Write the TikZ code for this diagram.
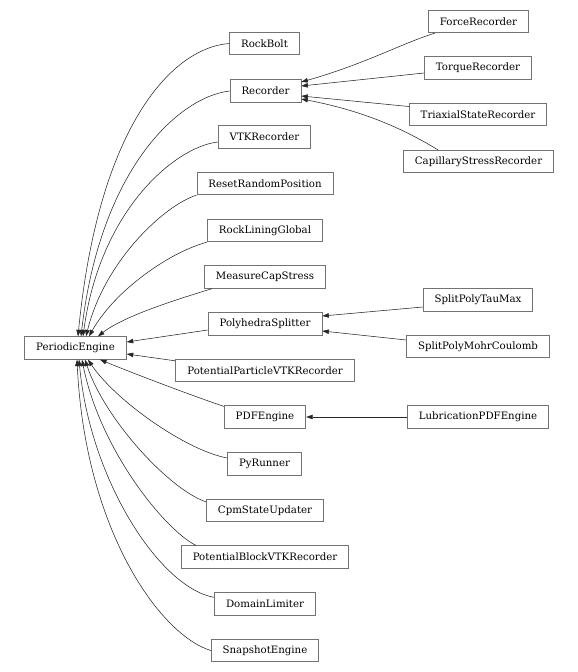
\documentclass[tikz,border=0pt]{standalone}
\usepackage{fontspec}
\setmainfont{DejaVu Serif}
\usetikzlibrary{arrows.meta}
\begin{document}
\begin{tikzpicture}[x=1bp,y=-1bp,
  cls/.style={draw=black!55, line width=0.8bp, rectangle, minimum height=22.5bp, inner xsep=11.5bp, inner ysep=0pt, font=\fontsize{10.2bp}{12bp}\selectfont, text=black},
  inh/.style={draw=black!85, line width=0.55bp, -{Triangle[length=6.5bp,width=4.5bp]}}]
\useasboundingbox (0,0) rectangle (578,672);
% nodes
\node[cls] (pe) at (75.5,348) {PeriodicEngine};
\node[cls] (rb) at (264.5,43.5) {RockBolt};
\node[cls] (rec) at (265.5,91) {Recorder};
\node[cls] (vtk) at (264.5,137) {VTKRecorder};
\node[cls] (rrp) at (265,183.5) {ResetRandomPosition};
\node[cls] (rlg) at (265,230.5) {RockLiningGlobal};
\node[cls] (mcs) at (265,277) {MeasureCapStress};
\node[cls] (ps) at (265,324) {PolyhedraSplitter};
\node[cls] (ppv) at (265,370.5) {PotentialParticleVTKRecorder};
\node[cls] (pdf) at (265,417) {PDFEngine};
\node[cls] (pyr) at (264.5,464) {PyRunner};
\node[cls] (cpm) at (265,510.5) {CpmStateUpdater};
\node[cls] (pbv) at (265,557) {PotentialBlockVTKRecorder};
\node[cls] (dl) at (265,604) {DomainLimiter};
\node[cls] (snap) at (265,650.5) {SnapshotEngine};
\node[cls] (fr) at (478.5,21.5) {ForceRecorder};
\node[cls] (tr) at (478,68) {TorqueRecorder};
\node[cls] (tsr) at (478,114.5) {TriaxialStateRecorder};
\node[cls] (csr) at (478.5,161.5) {CapillaryStressRecorder};
\node[cls] (sptm) at (478,300) {SplitPolyTauMax};
\node[cls] (spmc) at (478,346.5) {SplitPolyMohrCoulomb};
\node[cls] (lpe) at (478,417) {LubricationPDFEngine};
% edges to PeriodicEngine (top)
\draw[inh] (rb.west) .. controls (170,48) and (98,130) .. ([xshift=2.5bp]pe.north);
\draw[inh] (rec.west) .. controls (178,97) and (100,170) .. ([xshift=5.5bp]pe.north);
\draw[inh] ([yshift=-5bp]vtk.west) .. controls (175,147) and (100,210) .. ([xshift=7.5bp]pe.north);
\draw[inh] (rrp.south west) .. controls (165,205) and (105,260) .. ([xshift=10.5bp]pe.north);
\draw[inh] (rlg.south west) .. controls (170,252) and (115,290) .. ([xshift=13.5bp]pe.north);
\draw[inh] ([xshift=8bp]mcs.south west) .. controls (185,297) and (125,315) .. ([xshift=22.5bp]pe.north);
% edges to PeriodicEngine (right)
\draw[inh] ([yshift=-6bp]ps.west) -- ([yshift=6bp]pe.east);
\draw[inh] ([yshift=-2bp]ppv.north west) -- ([yshift=-6bp]pe.east);
% edges to PeriodicEngine (bottom)
\draw[inh] ([yshift=-1bp]pdf.north west) .. controls (190,395) and (130,372) .. ([xshift=24.5bp]pe.south);
\draw[inh] ([yshift=6bp]pyr.west) .. controls (185,450) and (115,400) .. ([xshift=12.5bp]pe.south);
\draw[inh] ([yshift=-3bp]cpm.north west) .. controls (170,490) and (105,420) .. ([xshift=9.5bp]pe.south);
\draw[inh] ([xshift=15bp]pbv.north west) .. controls (165,530) and (100,450) .. ([xshift=6.5bp]pe.south);
\draw[inh] ([yshift=-5bp]dl.north west) .. controls (160,588) and (90,480) .. ([xshift=3.5bp]pe.south);
\draw[inh] (snap.west) .. controls (160,635) and (85,530) .. ([xshift=1.5bp]pe.south);
% Recorder subtree
\draw[inh] ([xshift=7bp]fr.south west) .. controls (405,42) and (365,64) .. ([yshift=9bp]rec.east);
\draw[inh] ([yshift=-5bp]tr.west) -- ([yshift=5bp]rec.east);
\draw[inh] ([yshift=8bp]tsr.west) -- ([yshift=-5bp]rec.east);
\draw[inh] ([xshift=35bp]csr.north west) .. controls (410,133) and (370,112) .. ([yshift=-8bp]rec.east);
% PolyhedraSplitter subtree
\draw[inh] ([yshift=-7bp]sptm.west) -- ([yshift=8bp]ps.east);
\draw[inh] ([yshift=6.5bp]spmc.west) -- ([yshift=-7bp]ps.east);
% PDFEngine subtree
\draw[inh] (lpe.west) -- (pdf.east);
\end{tikzpicture}
\end{document}
